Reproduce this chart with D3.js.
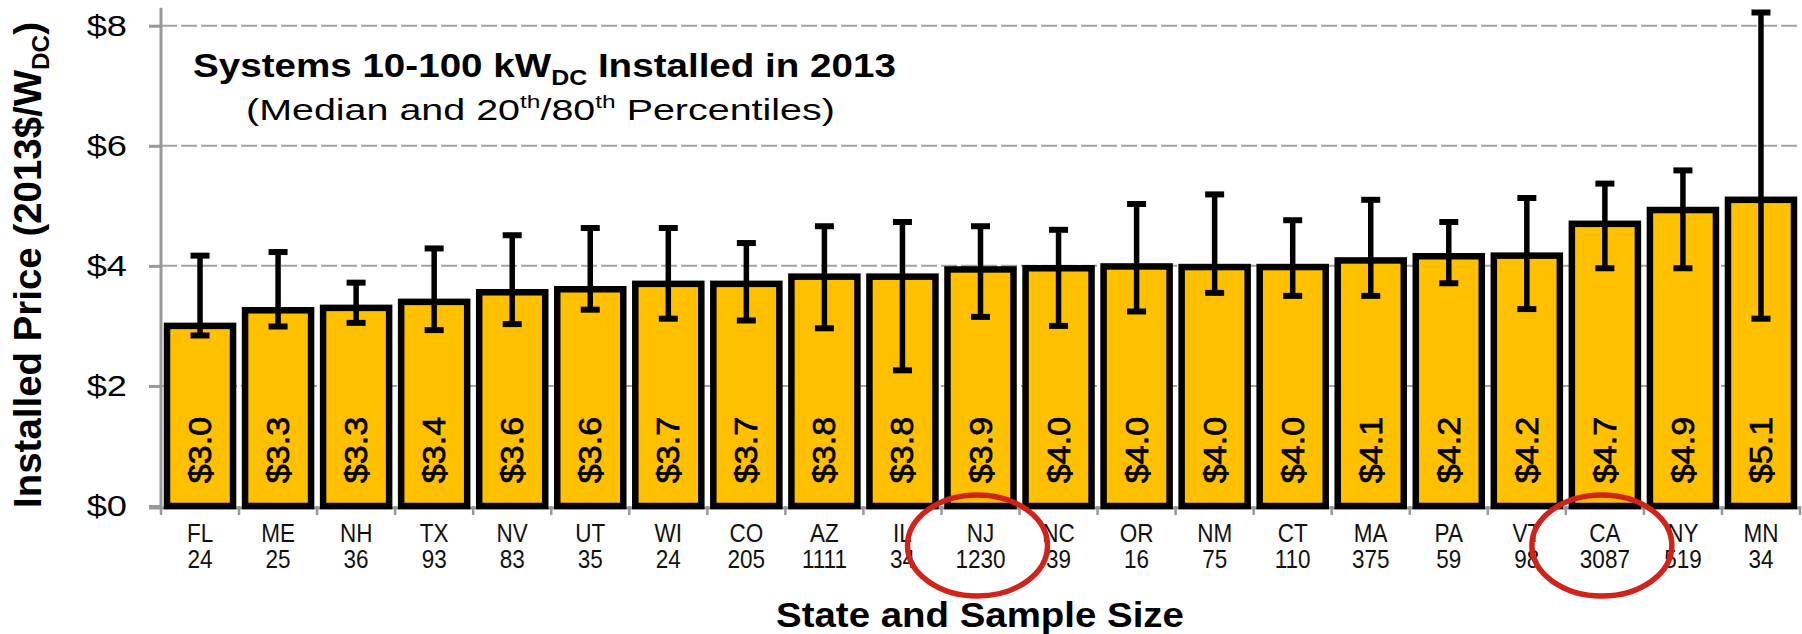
<!DOCTYPE html>
<html>
<head>
<meta charset="utf-8">
<script src="https://cdn.jsdelivr.net/npm/d3@7"></script>
<style>
  html, body { margin: 0; padding: 0; background: #fff; }
  text { font-family: "Liberation Sans", Arial, sans-serif; fill: #000; }
</style>
</head>
<body>
<div id="chart"></div>
<script>
// chart data
const states = ["FL", "ME", "NH", "TX", "NV", "UT", "WI", "CO", "AZ", "IL", "NJ",
                "NC", "OR", "NM", "CT", "MA", "PA", "VT", "CA", "NY", "MN"];
const sampleSizes = [24, 25, 36, 93, 83, 35, 24, 205, 1111, 34, 1230,
                     39, 16, 75, 110, 375, 59, 98, 3087, 519, 34];
const medians = [3.00, 3.26, 3.30, 3.40, 3.56, 3.61, 3.70, 3.70, 3.82, 3.82, 3.94,
                 3.96, 3.99, 3.98, 3.98, 4.09, 4.16, 4.17, 4.70, 4.93, 5.10];
const pct20 = [2.84, 2.99, 3.05, 2.93, 3.03, 3.27, 3.12, 3.09, 2.96, 2.26, 3.15,
               3.00, 3.24, 3.55, 3.50, 3.50, 3.71, 3.28, 3.96, 3.96, 3.12];
const pct80 = [4.17, 4.23, 3.72, 4.29, 4.51, 4.63, 4.63, 4.38, 4.66, 4.73, 4.66,
               4.60, 5.03, 5.19, 4.76, 5.10, 4.73, 5.13, 5.37, 5.59, 8.22];
const yTicks = [0, 2, 4, 6, 8];
const circled = ["NJ", "CA"];

const data = states.map((s, i) => ({
    state: s, n: sampleSizes[i], median: medians[i], lo: pct20[i], hi: pct80[i]
}));

const width = 1802, height = 634;
const svg = d3.select("#chart").append("svg")
    .attr("width", width)
    .attr("height", height);

// scales
const x = d3.scaleBand()
    .domain(states)
    .range([161, 1800])
    .paddingInner(0.154)
    .paddingOuter(0.077);
const y = d3.scaleLinear()
    .domain([0, 8])
    .range([506, 25.7]);
const cx = d => x(d) + x.bandwidth() / 2;

// dashed gridlines
svg.append("g").selectAll("line")
    .data(yTicks.filter(d => d > 0))
    .join("line")
    .attr("x1", 161).attr("x2", 1800)
    .attr("y1", d => y(d)).attr("y2", d => y(d))
    .style("stroke", "#a3a3a3")
    .style("stroke-width", 2)
    .style("stroke-dasharray", "16,4");

// y axis (ticks only, domain drawn separately so it runs past $8)
const yAxis = svg.append("g")
    .attr("transform", "translate(161,0)")
    .call(d3.axisLeft(y).tickValues(yTicks).tickSize(12).tickSizeOuter(0).tickFormat(""));
yAxis.select(".domain").remove();
yAxis.selectAll(".tick line").style("stroke", "#999").style("stroke-width", 3);
svg.append("line")
    .attr("x1", 161).attr("x2", 161)
    .attr("y1", y(0) + 1).attr("y2", y(8.3))
    .style("stroke", "#999").style("stroke-width", 3);

// y tick labels
svg.append("g").selectAll("text")
    .data(yTicks)
    .join("text")
    .attr("transform", d => `translate(127,${y(d)}) scale(1.25,1)`)
    .attr("dy", "0.36em")
    .attr("text-anchor", "end")
    .style("font-size", "29px")
    .text(d => "$" + d);

// x axis line and boundary ticks
svg.append("line")
    .attr("x1", 149).attr("x2", 1800)
    .attr("y1", y(0) + 2).attr("y2", y(0) + 2)
    .style("stroke", "#999").style("stroke-width", 3);
svg.append("g").selectAll("line")
    .data(d3.range(states.length + 1))
    .join("line")
    .attr("x1", i => 161 + i * x.step()).attr("x2", i => 161 + i * x.step())
    .attr("y1", y(0)).attr("y2", y(0) + 9)
    .style("stroke", "#999").style("stroke-width", 2.5);

// bars
svg.append("g").selectAll("rect")
    .data(data)
    .join("rect")
    .attr("x", d => x(d.state))
    .attr("width", x.bandwidth())
    .attr("y", d => y(d.median))
    .attr("height", d => y(0) - y(d.median))
    .style("fill", "#FFC000")
    .style("stroke", "#000")
    .style("stroke-width", 6.5);

// error bars (20th / 80th percentiles)
const eb = svg.append("g").selectAll("g")
    .data(data)
    .join("g");
eb.append("line")
    .attr("x1", d => cx(d.state)).attr("x2", d => cx(d.state))
    .attr("y1", d => y(d.lo)).attr("y2", d => y(d.hi))
    .style("stroke", "#000").style("stroke-width", 5.5);
["lo", "hi"].forEach(k => {
    eb.append("line")
        .attr("x1", d => cx(d.state) - 9.5).attr("x2", d => cx(d.state) + 9.5)
        .attr("y1", d => y(d[k])).attr("y2", d => y(d[k]))
        .style("stroke", "#000").style("stroke-width", 6);
});

// value labels inside bars
svg.append("g").selectAll("text")
    .data(data)
    .join("text")
    .attr("transform", d => `translate(${cx(d.state) + 11},450) rotate(-90) scale(1.1,1)`)
    .attr("text-anchor", "middle")
    .style("font-size", "31px")
    .style("stroke", "#000")
    .style("stroke-width", 0.7)
    .text(d => "$" + d.median.toFixed(1));

// category labels: state on one line, sample size below
svg.append("g").selectAll("text")
    .data(data)
    .join("text")
    .attr("transform", d => `translate(${cx(d.state)},542) scale(0.9,1)`)
    .attr("text-anchor", "middle")
    .style("font-size", "25px")
    .style("fill", "#111")
    .text(d => d.state);
svg.append("g").selectAll("text")
    .data(data)
    .join("text")
    .attr("transform", d => `translate(${cx(d.state)},567.5) scale(0.9,1)`)
    .attr("text-anchor", "middle")
    .style("font-size", "25px")
    .style("fill", "#111")
    .text(d => d.n);

// helper: stretch a text horizontally to a measured width
function fitWidth(sel, target) {
    return target / sel.node().getComputedTextLength();
}

// title
const title = svg.append("text")
    .style("font-size", "34px")
    .style("font-weight", "bold");
title.append("tspan").text("Systems 10-100 kW");
title.append("tspan").attr("dy", 8).style("font-size", "22px").text("DC");
title.append("tspan").attr("dy", -8).text(" Installed in 2013");
title.attr("transform", `translate(193,77) scale(${fitWidth(title, 703)},1)`);

const sub = svg.append("text")
    .style("font-size", "29px");
sub.append("tspan").text("(Median and 20");
sub.append("tspan").attr("dy", -12).style("font-size", "18px").text("th");
sub.append("tspan").attr("dy", 12).text("/80");
sub.append("tspan").attr("dy", -12).style("font-size", "18px").text("th");
sub.append("tspan").attr("dy", 12).text(" Percentiles)");
sub.attr("transform", `translate(246,120) scale(${fitWidth(sub, 589)},1)`);

// axis titles
const yTitle = svg.append("text")
    .attr("text-anchor", "middle")
    .style("font-size", "38px")
    .style("font-weight", "bold");
yTitle.append("tspan").text("Installed Price (2013$/W");
yTitle.append("tspan").attr("dy", 8).style("font-size", "24px").text("DC");
yTitle.append("tspan").attr("dy", -8).text(")");
yTitle.attr("transform", `translate(41,265) rotate(-90) scale(${fitWidth(yTitle, 486)},1)`);

const xTitle = svg.append("text")
    .attr("text-anchor", "middle")
    .style("font-size", "35px")
    .style("font-weight", "bold")
    .text("State and Sample Size");
xTitle.attr("transform", `translate(980,627) scale(${fitWidth(xTitle, 408)},1)`);

// red highlight ellipses
svg.append("g").selectAll("ellipse")
    .data(circled)
    .join("ellipse")
    .attr("cx", d => cx(d) - 3)
    .attr("cy", 545.5)
    .attr("rx", 70)
    .attr("ry", 50.5)
    .style("fill", "none")
    .style("stroke", "#d0241a")
    .style("stroke-width", 5.5);
</script>
</body>
</html>
